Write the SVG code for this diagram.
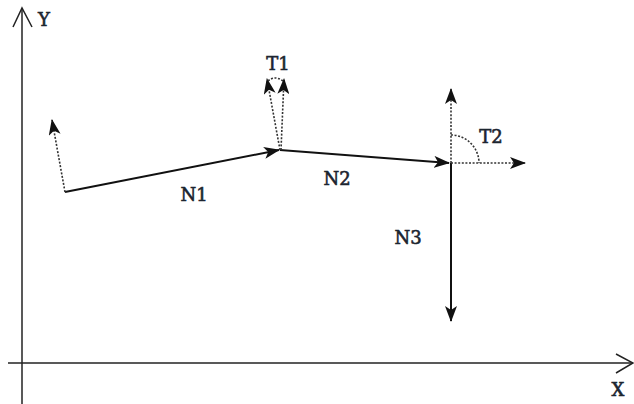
<svg xmlns="http://www.w3.org/2000/svg" width="634" height="404" viewBox="0 0 634 404">
<style>
.ax{stroke:#222;stroke-width:1.5;fill:none}
.vec{stroke:#111;stroke-width:2;fill:none}
.dot{stroke:#333;stroke-width:1.6;fill:none;stroke-dasharray:2 1.6}
.lbl{font-family:"DejaVu Serif","Liberation Serif",serif;font-size:18px;fill:#1c2530;stroke:#1c2530;stroke-width:0.6;text-anchor:middle}
</style>
<defs>
<marker id="ah" markerWidth="16" markerHeight="12" refX="15" refY="6" orient="auto" markerUnits="userSpaceOnUse">
<path d="M0,0 L16,6 L0,12 L4,6 z" fill="#111"/>
</marker>
</defs>
<rect width="634" height="404" fill="#fff"/>
<g id="axes">
<line class="ax" x1="22" y1="404" x2="22" y2="8"/>
<polyline class="ax" points="13,27 22,8 32,27"/>
<line class="ax" x1="8" y1="363" x2="633" y2="363"/>
<polyline class="ax" points="616,354 633,363 616,373"/>
</g>
<g id="connectors">
<line class="vec" x1="65" y1="192" x2="279" y2="150" marker-end="url(#ah)"/>
<line class="vec" x1="280" y1="150" x2="449" y2="163" marker-end="url(#ah)"/>
<line class="vec" x1="451" y1="163" x2="451" y2="321" marker-end="url(#ah)"/>
<line class="dot" x1="65" y1="192" x2="52" y2="120" marker-end="url(#ah)"/>
<line class="dot" x1="280" y1="150" x2="267" y2="79" marker-end="url(#ah)"/>
<line class="dot" x1="281" y1="150" x2="284" y2="79" marker-end="url(#ah)"/>
<path class="dot" d="M268,81 Q275,75 283,81"/>
<line class="dot" x1="451" y1="163" x2="451" y2="89" marker-end="url(#ah)"/>
<line class="dot" x1="451" y1="163" x2="525" y2="163" marker-end="url(#ah)"/>
<path class="dot" d="M451,135 A28,28 0 0 1 479,163"/>
</g>
<g id="labels">
<text class="lbl" x="44" y="26">Y</text>
<text class="lbl" x="618" y="396">X</text>
<text class="lbl" x="194" y="201">N1</text>
<text class="lbl" x="337" y="185">N2</text>
<text class="lbl" x="408" y="244">N3</text>
<text class="lbl" x="278" y="70">T1</text>
<text class="lbl" x="491" y="143">T2</text>
</g>
</svg>
